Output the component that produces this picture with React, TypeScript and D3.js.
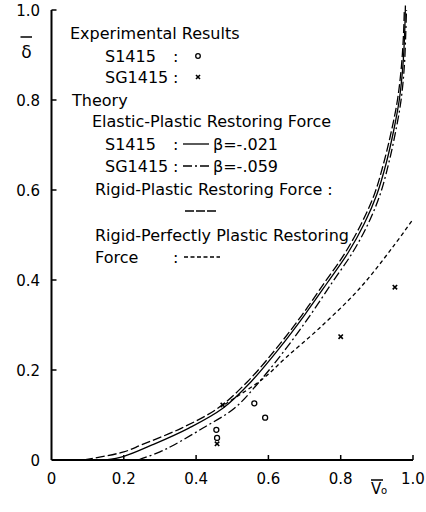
import React from "react";
import * as d3 from "d3";

// ---- data ----
const xTicks = [0, 0.2, 0.4, 0.6, 0.8, 1.0];
const yTicks = [0, 0.2, 0.4, 0.6, 0.8, 1.0];
const xTickLabels = ["0", "0.2", "0.4", "0.6", "0.8", "1.0"];
const yTickLabels = ["0", "0.2", "0.4", "0.6", "0.8", "1.0"];

// Experimental results
const s1415V = [0.456, 0.458, 0.561, 0.591];
const s1415D = [0.067, 0.049, 0.126, 0.094];
const sg1415V = [0.458, 0.474, 0.80, 0.95];
const sg1415D = [0.036, 0.122, 0.274, 0.384];

// Theory: Elastic-Plastic, S1415 beta=-.021 (solid)
const epS1415V = [0.15, 0.2, 0.28, 0.38, 0.474, 0.552, 0.63, 0.699, 0.764, 0.82, 0.865, 0.9, 0.926, 0.946, 0.962, 0.972, 0.977, 0.979];
const epS1415D = [0.0, 0.008, 0.034, 0.071, 0.115, 0.174, 0.248, 0.321, 0.395, 0.46, 0.525, 0.59, 0.66, 0.73, 0.8, 0.875, 0.95, 1.01];

// Theory: Elastic-Plastic, SG1415 beta=-.059 (dash-dot)
const epSG1415V = [0.24, 0.3, 0.34, 0.419, 0.506, 0.575, 0.649, 0.715, 0.777, 0.832, 0.876, 0.909, 0.933, 0.952, 0.967, 0.976, 0.98, 0.982];
const epSG1415D = [0.0, 0.018, 0.034, 0.071, 0.115, 0.174, 0.248, 0.321, 0.395, 0.46, 0.525, 0.59, 0.66, 0.73, 0.8, 0.875, 0.95, 1.0];

// Theory: Rigid-Plastic (long dash)
const rpV = [0.09, 0.2, 0.25, 0.36, 0.46, 0.542, 0.622, 0.692, 0.756, 0.812, 0.857, 0.893, 0.919, 0.94, 0.957, 0.968, 0.974, 0.976];
const rpD = [0.0, 0.018, 0.034, 0.071, 0.115, 0.174, 0.248, 0.321, 0.395, 0.46, 0.525, 0.59, 0.66, 0.73, 0.8, 0.875, 0.95, 1.0];

// Theory: Rigid-Perfectly Plastic (short dash)
const rppV = [0.48, 0.584, 0.649, 0.741, 0.851, 0.943, 1.0];
const rppD = [0.124, 0.18, 0.228, 0.293, 0.38, 0.472, 0.535];

const W = 426;
const H = 512;
const FONT = "'DejaVu Sans', 'Liberation Sans', sans-serif";

export default function App() {
  const x = d3.scaleLinear().domain([0, 1]).range([51.5, 413]);
  const y = d3.scaleLinear().domain([0, 1]).range([460, 10]);

  const toPts = (vs: number[], ds: number[]) => vs.map((v, i) => [v, ds[i]] as [number, number]);
  const line = d3
    .line<[number, number]>()
    .x((d) => x(d[0]))
    .y((d) => y(d[1]))
    .curve(d3.curveCatmullRom.alpha(0.5));

  const curves = [
    { pts: toPts(epS1415V, epS1415D), dash: "none" },
    { pts: toPts(epSG1415V, epSG1415D), dash: "9,3,2,3" },
    { pts: toPts(rpV, rpD), dash: "9,3" },
    { pts: toPts(rppV, rppD), dash: "4,3" },
  ];

  const xMark = (cx: number, cy: number, s: number, key: string) => (
    <g key={key} stroke="#000" strokeWidth={1.6}>
      <line x1={cx - s} y1={cy - s} x2={cx + s} y2={cy + s} />
      <line x1={cx - s} y1={cy + s} x2={cx + s} y2={cy - s} />
    </g>
  );

  const txt = (s: string, tx: number, cy: number) => (
    <text x={tx} y={cy + 6} fontSize={16} fontFamily={FONT} fill="#000">
      {s}
    </text>
  );

  return (
    <div style={{ position: "absolute", left: 0, top: 0 }}>
      <svg width={W} height={H} viewBox={`0 0 ${W} ${H}`} style={{ display: "block", background: "#fff" }}>
        <rect x={0} y={0} width={W} height={H} fill="#fff" />
        {/* axes */}
        <line x1={x(0)} y1={y(0)} x2={x(0)} y2={y(1)} stroke="#000" strokeWidth={2} />
        <line x1={x(0)} y1={y(0)} x2={x(1)} y2={y(0)} stroke="#000" strokeWidth={2} />
        {yTicks.map((t, i) => (
          <g key={"yt" + i}>
            {i > 0 && <line x1={x(0)} x2={x(0) + 5} y1={y(t)} y2={y(t)} stroke="#000" strokeWidth={1.5} />}
            <text x={40} y={y(t) + 5.5} fontSize={15} fontFamily={FONT} textAnchor="end">
              {yTickLabels[i]}
            </text>
          </g>
        ))}
        {xTicks.map((t, i) => (
          <g key={"xt" + i}>
            {i > 0 && <line x1={x(t)} x2={x(t)} y1={y(0)} y2={y(0) - 5} stroke="#000" strokeWidth={1.5} />}
            <text x={x(t)} y={484} fontSize={15} fontFamily={FONT} textAnchor="middle">
              {xTickLabels[i]}
            </text>
          </g>
        ))}
        {/* axis titles */}
        <line x1={20.5} x2={32} y1={37} y2={37} stroke="#000" strokeWidth={1.5} />
        <text x={26.5} y={58} fontSize={17} fontFamily={FONT} textAnchor="middle">δ</text>
        <line x1={371} x2={383} y1={480} y2={480} stroke="#000" strokeWidth={1.5} />
        <text x={371} y={494} fontSize={15} fontFamily={FONT}>V</text>
        <text x={381} y={494} fontSize={10} fontFamily={FONT}>o</text>

        {/* theory curves */}
        <g fill="none" stroke="#000" strokeWidth={1.3}>
          {curves.map((c, i) => (
            <path key={"c" + i} d={line(c.pts) || ""} strokeDasharray={c.dash} />
          ))}
        </g>

        {/* experimental points */}
        {s1415V.map((v, i) => (
          <circle key={"s" + i} cx={x(v)} cy={y(s1415D[i])} r={2.5} fill="none" stroke="#000" strokeWidth={1.3} />
        ))}
        {sg1415V.map((v, i) => xMark(x(v), y(sg1415D[i]), 2.2, "g" + i))}

        {/* legend */}
        {txt("Experimental Results", 70, 33)}
        {txt("S1415", 105, 56)}
        {txt(":", 173, 56)}
        <circle cx={198} cy={56} r={2.3} fill="none" stroke="#000" strokeWidth={1.3} />
        {txt("SG1415", 105, 77)}
        {txt(":", 173, 77)}
        {xMark(198, 77, 2, "lg")}
        {txt("Theory", 72, 100)}
        {txt("Elastic-Plastic Restoring Force", 92, 121)}
        {txt("S1415", 105, 144)}
        {txt(":", 173, 144)}
        <line x1={183} x2={209} y1={144} y2={144} stroke="#000" strokeWidth={1.3} />
        {txt("β=-.021", 213, 144)}
        {txt("SG1415", 105, 166)}
        {txt(":", 173, 166)}
        <line x1={183} x2={209} y1={166} y2={166} stroke="#000" strokeWidth={1.3} strokeDasharray="9,3,2,3" />
        {txt("β=-.059", 213, 166)}
        {txt("Rigid-Plastic Restoring Force :", 95, 189)}
        <line x1={185} x2={216} y1={211} y2={211} stroke="#000" strokeWidth={1.3} strokeDasharray="9,2" />
        {txt("Rigid-Perfectly Plastic Restoring", 95, 235)}
        {txt("Force", 95, 257)}
        {txt(":", 173, 257)}
        <line x1={184} x2={220} y1={257} y2={257} stroke="#000" strokeWidth={1.3} strokeDasharray="4,2.5" />
      </svg>
    </div>
  );
}
